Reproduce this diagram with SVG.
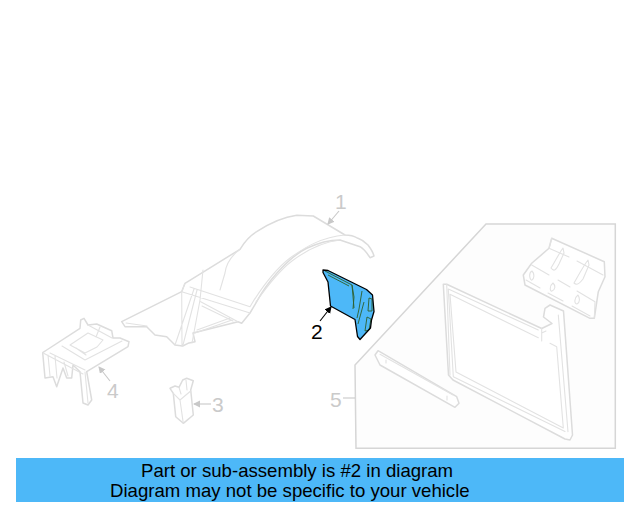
<svg xmlns="http://www.w3.org/2000/svg" width="640" height="512" viewBox="0 0 640 512">
<style>
.g{fill:none;stroke:#e2e2e2;stroke-width:1.1;stroke-linejoin:round;stroke-linecap:round}
.o{fill:#fff;stroke:#dcdcdc;stroke-width:1.5;stroke-linejoin:round;stroke-linecap:round}
.l{font-family:"Liberation Sans",Arial,sans-serif;font-size:21px;fill:#cacaca}
.b{font-family:"Liberation Sans",Arial,sans-serif;font-size:18.6px;fill:#000}
.k{fill:none;stroke:#000;stroke-width:1.3;stroke-linejoin:round;stroke-linecap:round}
.v{fill:none;stroke:#2f5f2a;stroke-width:.9;stroke-linejoin:round}
</style>
<defs>
<marker id="ag" markerWidth="8" markerHeight="8" refX="6" refY="3.500" orient="auto" markerUnits="userSpaceOnUse"><path d="M0 0L7 3.500L0 7z" fill="#c8c8c8"/></marker>
<marker id="ak" markerWidth="8" markerHeight="8" refX="6" refY="3.500" orient="auto" markerUnits="userSpaceOnUse"><path d="M0 0L7 3.500L0 7z" fill="#000"/></marker>
</defs>
<g id="part-1">
<path class="o" d="M121.700 321.700L181.700 291.700L185 283.300L240 249.300C245 241 251 235 256.700 231.700C270 223 284 217 296.700 215.300L313.300 216L345 235C350 235 354 236 358 238.300C363 240 366 243 368 245C371 249 373 252 374 256L370 257.700C367 253 364 249 360 246.700L340 240C329 240 318 243 306.700 248.300C295 254 285 264 276.700 273.300C269 282 262 292 256.700 301.700L250 313L241.700 323.300L238 321.700L193 333L195 341.700L188 343.300L182.700 346L175 345L166.700 336.700L155 335L146.700 326.700L125 326.700z"/>
<path class="g" d="M185 283.300L181.700 291.700L250 313M190 287L250 306.700L253 301.700C265 283 277 268 290 258C305 247 322 237 345 235M256 302C268 285 280 270 292 261C308 249 322 242 340 240M240 249.300C231 256 226 265 225 273L220 290M203 270L200 300L192 343M194 289L175 345M197 290L183 345M200.700 301.700L238 321.700M202 306L233 321M195 333L232 320M197 330L230 318M126 323L147 326M181.700 291.700L182 346"/>
</g>
<g id="part-2">
<path d="M323 270L328 270.500L366.500 289.500L372.500 295L374 311.500L371.500 320L370.500 328L360 339.500L357.500 336.500L355 319.500L330.500 306L328 282L323 272.500z" fill="#4db8f8"/>
<path class="v" d="M325 271L352 285L354 297L353 309M328 275L349 286M352 285L354 308M362 291L359 309L357 318M364 302L358 324M369 298L372 299V311H368zM367 317L371 319L369 330L365 331z"/>
<path class="k" d="M323 270L328 270.500L366.500 289.500L372.500 295L374 311.500L371.500 320L370.500 328L360 339.500L357.500 336.500L355 319.500L330.500 306L328 282L323 272.500z"/>
</g>
<g id="part-3">
<path class="o" d="M170 388.300L175 386L179 387.300L182.700 380L186.700 378.300L193.300 380.700L190.700 390L193.300 415L183.300 423.300L175.700 416.700L173.300 393.300z"/>
<path class="g" d="M173.300 393.300L180 400L190.700 391M180 400L183.300 423.300M179 387.300L181 394M186 380L187 390"/>
</g>
<g id="part-4">
<path class="o" d="M42.700 352.700L46.700 350L80 328.300L80.700 320L84 318.300L88 325L96.700 324L111.700 330.700L113 338L120 338L129 341.700L128 346.700L86.700 371.700L91.700 400L88 405L83 403L80 371.700L73 365L71.700 378L66.700 378L63 368L56.700 386.700L53 376.700L45 378z"/>
<path class="g" d="M42.700 352.700L83 374M50 353L85 370M62 346L85 360L122 341M70 345L88 333L103 340L97 347L85 353zM76 348L86 355M48 355L50 376M55 356L57 378M64 362L68 376M85 372L88 403M88 325L112 338M100 327L96 337"/>
</g>
<g id="part-5">
<path d="M486 224H615.300V448.300H356L355 365z" fill="#fdfdfd" stroke="#d6d6d6" stroke-width="1.500"/>
<g id="part-5-plate">
<path class="o" d="M551.700 238.300L604.300 261.700L605 276.700L598.300 291.700L594.300 318.300L590 318.300L525 285L523.300 275L531.700 263.300L549 248.300z"/>
<path class="g" d="M551.700 238.300L549 248.300L569 257M577 261L603 275M531.700 265L549 275M558 280L570 287M577 291L595 301.700M526 280L540 288M548 293L563 301M572 306L590 316M594.300 318.300L595 301.700"/>
<path class="g" d="M563 248C560 252 554 263 551 268C554 272 556 270 559 264L564 253zM588 260C584 265 578 276 574 283C577 286 580 283 583 279L589 265zM532 271C528 273 530 281 532 280C534 279 535 274 532 271zM553 283C549 286 550 292 552 291C555 290 556 286 553 283zM578 295C574 298 574 304 577 304C580 303 580 298 578 295z"/>
</g>
<g id="part-5-frame">
<path class="o" d="M443.300 284.300L446.700 284.300L541.700 328.500L552 323.500L543.500 317L545 308.300L550 305L563.500 311L572.500 435L570 440L565 439L453 380L448.500 375z"/>
<path class="g" d="M448.300 289L538.300 330M450 294.300L538.300 337.700M448.300 289L453.300 376.700L565 431.500M450 294.300L456 372L563.300 428M541.700 328.500V341M550 343.300L556.700 346.700L563.300 428M558.300 315L568 431.700M446.700 284.300L450 375M541.700 333L546 331"/>
</g>
<g id="part-5-strip">
<path class="o" d="M375 355L378 350.700L456.700 396.700L459 403.300L455 407.300L380 365z"/>
<path class="g" d="M380 354.300L453 395M386 360V363M447 396V400"/>
</g>
</g>
<g id="connectors">
<line x1="339" y1="211" x2="328" y2="224" stroke="#c8c8c8" stroke-width="1.100" marker-end="url(#ag)"/>
<line x1="320" y1="321" x2="331" y2="307" stroke="#000" stroke-width="1.100" marker-end="url(#ak)"/>
<line x1="211" y1="404" x2="194" y2="404" stroke="#c8c8c8" stroke-width="1.100" marker-end="url(#ag)"/>
<line x1="110" y1="381" x2="99" y2="367" stroke="#c8c8c8" stroke-width="1.100" marker-end="url(#ag)"/>
<line x1="343" y1="398" x2="355" y2="398" stroke="#c8c8c8" stroke-width="1.100"/>
</g>
<g id="labels">
<text class="l" x="335" y="209">1</text>
<text class="l" x="311" y="339" style="fill:#000">2</text>
<text class="l" x="212" y="411.500">3</text>
<text class="l" x="107" y="397.500">4</text>
<text class="l" x="330" y="407">5</text>
</g>
<g id="banner">
<rect x="16" y="458" width="608" height="44" fill="#4db8f8"/>
<text class="b" x="141" y="477">Part or sub-assembly is #2 in diagram</text>
<text class="b" x="110" y="497">Diagram may not be specific to your vehicle</text>
</g>
</svg>
